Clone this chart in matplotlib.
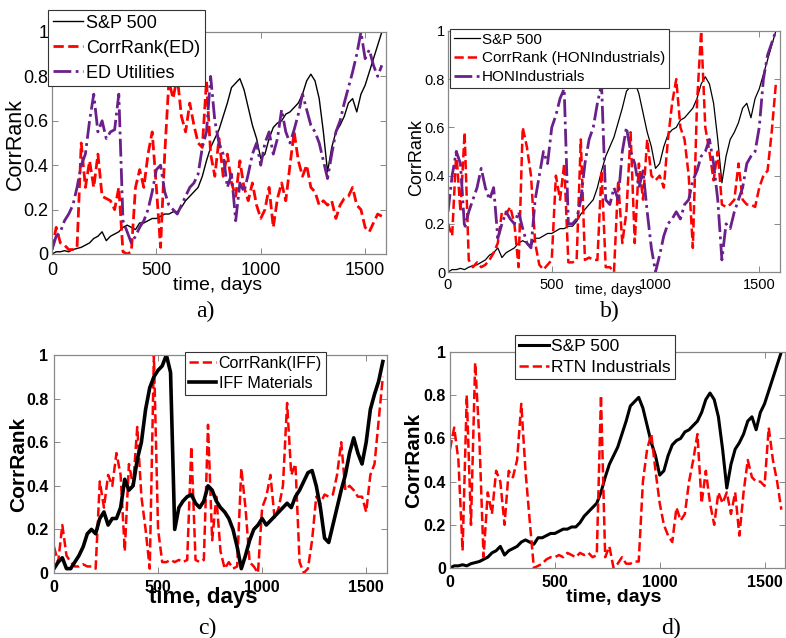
import numpy as np
import matplotlib.pyplot as plt

# day grid shared by all series (one value every 20 days)
days = np.arange(0, 1600, 20)

sp500 = [0.00, 0.01, 0.01, 0.015, 0.01, 0.02, 0.025, 0.03, 0.04, 0.05,
         0.07, 0.08, 0.10, 0.06, 0.08, 0.09, 0.10, 0.12, 0.13, 0.12,
         0.11, 0.14, 0.14, 0.15, 0.16, 0.16, 0.17, 0.18, 0.18, 0.19,
         0.19, 0.21, 0.24, 0.26, 0.28, 0.30, 0.35, 0.42, 0.48, 0.52,
         0.56, 0.62, 0.68, 0.75, 0.77, 0.79, 0.74, 0.66, 0.58, 0.52,
         0.43, 0.45, 0.52, 0.57, 0.59, 0.60, 0.63, 0.64, 0.66, 0.68,
         0.72, 0.78, 0.81, 0.78, 0.70, 0.55, 0.37, 0.48, 0.55, 0.58,
         0.62, 0.68, 0.70, 0.64, 0.72, 0.76, 0.82, 0.88, 0.94, 1.00]

corr_ed = [0.02, 0.12, 0.05, 0.04, 0.02, 0.02, 0.03, 0.50, 0.30, 0.42,
           0.30, 0.45, 0.26, 0.25, 0.24, 0.20, 0.30, 0.01, 0.00, 0.01,
           0.30, 0.38, 0.30, 0.45, 0.55, 0.30, 0.03, 0.45, 0.78, 0.70,
           0.80, 0.62, 0.55, 0.68, 0.58, 0.50, 0.48, 0.78, 0.45, 0.35,
           0.52, 0.35, 0.45, 0.32, 0.26, 0.42, 0.30, 0.24, 0.32, 0.22,
           0.16, 0.20, 0.30, 0.12, 0.25, 0.32, 0.24, 0.40, 0.55, 0.42,
           0.35, 0.40, 0.30, 0.28, 0.22, 0.24, 0.22, 0.24, 0.16, 0.22,
           0.25, 0.26, 0.30, 0.22, 0.20, 0.12, 0.10, 0.14, 0.18, 0.17]

ed_util = [0.02, 0.08, 0.10, 0.15, 0.18, 0.22, 0.30, 0.40, 0.45, 0.60,
           0.72, 0.55, 0.60, 0.52, 0.55, 0.56, 0.72, 0.15, 0.10, 0.05,
           0.08, 0.12, 0.15, 0.20, 0.28, 0.38, 0.40, 0.28, 0.22, 0.20,
           0.18, 0.22, 0.26, 0.30, 0.32, 0.36, 0.48, 0.55, 0.80, 0.60,
           0.50, 0.45, 0.30, 0.36, 0.15, 0.32, 0.28, 0.36, 0.45, 0.50,
           0.40, 0.50, 0.55, 0.45, 0.52, 0.65, 0.55, 0.50, 0.56, 0.63,
           0.72, 0.65, 0.58, 0.55, 0.50, 0.42, 0.34, 0.45, 0.55, 0.60,
           0.68, 0.75, 0.82, 0.90, 1.00, 0.88, 0.92, 0.85, 0.80, 0.85]

corr_hon = [0.20, 0.15, 0.50, 0.25, 0.58, 0.05, 0.02, 0.04, 0.02, 0.03,
            0.05, 0.08, 0.12, 0.25, 0.24, 0.27, 0.20, 0.02, 0.60, 0.52,
            0.40, 0.12, 0.03, 0.01, 0.03, 0.05, 0.40, 0.30, 0.45, 0.04,
            0.04, 0.05, 0.55, 0.05, 0.06, 0.05, 0.05, 0.42, 0.02, 0.02,
            0.00, 0.38, 0.12, 0.25, 0.58, 0.12, 0.45, 0.30, 0.55, 0.40,
            0.38, 0.40, 0.35, 0.55, 0.70, 0.80, 0.60, 0.55, 0.40, 0.10,
            0.70, 1.00, 0.60, 0.50, 0.38, 0.50, 0.28, 0.27, 0.28, 0.30,
            0.45, 0.30, 0.28, 0.28, 0.27, 0.35, 0.40, 0.42, 0.58, 0.78]

hon_ind = [0.25, 0.40, 0.50, 0.45, 0.18, 0.25, 0.30, 0.35, 0.43, 0.35,
           0.30, 0.35, 0.14, 0.20, 0.25, 0.22, 0.20, 0.25, 0.18, 0.12,
           0.10, 0.30, 0.40, 0.50, 0.45, 0.60, 0.65, 0.72, 0.76, 0.20,
           0.20, 0.22, 0.30, 0.45, 0.55, 0.60, 0.70, 0.78, 0.30, 0.28,
           0.35, 0.30, 0.50, 0.60, 0.50, 0.45, 0.35, 0.42, 0.25, 0.10,
           0.00, 0.07, 0.15, 0.20, 0.22, 0.25, 0.22, 0.28, 0.30, 0.38,
           0.42, 0.48, 0.50, 0.55, 0.45, 0.30, 0.05, 0.20, 0.18, 0.25,
           0.30, 0.35, 0.45, 0.48, 0.50, 0.60, 0.80, 0.90, 0.95, 1.00]

corr_iff = [0.12, 0.05, 0.22, 0.08, 0.05, 0.03, 0.03, 0.04, 0.03, 0.03,
            0.02, 0.42, 0.30, 0.45, 0.40, 0.55, 0.45, 0.10, 0.50, 0.40,
            0.67, 0.35, 0.20, 0.02, 1.00, 0.20, 0.05, 0.05, 0.06, 0.05,
            0.06, 0.05, 0.06, 0.58, 0.06, 0.05, 0.06, 0.68, 0.15, 0.35,
            0.10, 0.02, 0.05, 0.02, 0.03, 0.48, 0.30, 0.05, 0.03, 0.00,
            0.30, 0.35, 0.45, 0.25, 0.30, 0.40, 0.78, 0.45, 0.50, 0.05,
            0.00, 0.02, 0.15, 0.35, 0.32, 0.36, 0.35, 0.36, 0.45, 0.60,
            0.38, 0.40, 0.38, 0.35, 0.35, 0.28, 0.45, 0.50, 0.70, 0.90]

iff_mat = [0.02, 0.05, 0.07, 0.02, 0.02, 0.05, 0.08, 0.12, 0.18, 0.20,
           0.18, 0.25, 0.28, 0.22, 0.25, 0.25, 0.30, 0.43, 0.38, 0.40,
           0.52, 0.60, 0.75, 0.85, 0.90, 0.93, 0.95, 1.00, 0.92, 0.20,
           0.30, 0.33, 0.35, 0.36, 0.32, 0.30, 0.33, 0.40, 0.38, 0.33,
           0.30, 0.28, 0.25, 0.20, 0.12, 0.02, 0.08, 0.15, 0.20, 0.22,
           0.25, 0.22, 0.24, 0.26, 0.28, 0.30, 0.32, 0.30, 0.35, 0.38,
           0.42, 0.46, 0.47, 0.40, 0.30, 0.16, 0.14, 0.22, 0.30, 0.38,
           0.45, 0.55, 0.62, 0.55, 0.50, 0.60, 0.75, 0.82, 0.88, 0.97]

rtn_ind = [0.55, 0.65, 0.50, 0.08, 0.80, 0.20, 0.95, 0.60, 0.05, 0.35,
           0.25, 0.45, 0.40, 0.20, 0.45, 0.42, 0.50, 0.76, 0.45, 0.22,
           0.00, 0.01, 0.02, 0.04, 0.05, 0.05, 0.06, 0.05, 0.07, 0.06,
           0.05, 0.07, 0.06, 0.07, 0.05, 0.06, 0.80, 0.05, 0.10, 0.00,
           0.02, 0.05, 0.02, 0.02, 0.03, 0.03, 0.40, 0.55, 0.62, 0.45,
           0.30, 0.20, 0.15, 0.12, 0.28, 0.22, 0.25, 0.40, 0.50, 0.62,
           0.30, 0.45, 0.30, 0.20, 0.35, 0.30, 0.35, 0.25, 0.35, 0.15,
           0.35, 0.50, 0.42, 0.40, 0.40, 0.38, 0.65, 0.50, 0.40, 0.27]

RED = '#ff0000'
PURPLE = '#6a1f8a'
W, H = 786, 638

plt.rcParams['font.family'] = ['Liberation Sans', 'DejaVu Sans']
fig = plt.figure(figsize=(W / 100, H / 100), dpi=100)


def box(l, t, r, b):
    return [l / W, 1 - b / H, (r - l) / W, (b - t) / H]


def ftext(x, y, s, **kw):
    fig.text(x / W, 1 - y / H, s, ha='center', va='center', **kw)


def style(ax, size, xpad, ypad, weight='normal'):
    ax.set_xlim(0, 1600)
    ax.set_ylim(0, 1)
    ax.set_xticks([0, 500, 1000, 1500])
    ax.set_yticks([0, 0.2, 0.4, 0.6, 0.8, 1])
    ax.set_yticklabels(['0', '0.2', '0.4', '0.6', '0.8', '1'])
    ax.tick_params(direction='in', top=True, right=True, length=4, width=0.7,
                   color='#888888', labelsize=size)
    ax.tick_params(axis='x', pad=xpad)
    ax.tick_params(axis='y', pad=ypad)
    for lab in ax.get_xticklabels() + ax.get_yticklabels():
        lab.set_fontweight(weight)
    for sp in ax.spines.values():
        sp.set_color('#888888')
        sp.set_linewidth(0.9)


def legend(ax, x, y, size, spacing):
    leg = ax.legend(loc='upper left', bbox_to_anchor=(x / W, 1 - y / H),
                    bbox_transform=fig.transFigure, borderaxespad=0,
                    fontsize=size, fancybox=False, framealpha=1,
                    handlelength=1.7, handletextpad=0.15, borderpad=0.25,
                    labelspacing=spacing)
    leg.get_frame().set_edgecolor('#333333')
    leg.get_frame().set_linewidth(0.8)
    leg.set_zorder(10)


# a)
ax = fig.add_axes(box(52, 32, 386, 254))
ax.plot(days, sp500, color='black', lw=1.0, label='S&P 500')
ax.plot(days, corr_ed, color=RED, lw=2.0, ls='--', label='CorrRank(ED)')
ax.plot(days, ed_util, color=PURPLE, lw=2.0, ls='-.', label='ED Utilities')
style(ax, 13, 6, 2.5)
legend(ax, 48, 10, 13, 0.45)
ftext(15, 144, 'CorrRank', fontsize=15.5, rotation=90)
ftext(218, 285, 'time, days', fontsize=14)
ftext(205, 311, 'a)', fontsize=17, family='Liberation Serif')

# b)
ax = fig.add_axes(box(448, 31, 780, 272))
ax.plot(days, sp500, color='black', lw=0.9, label='S&P 500')
ax.plot(days, corr_hon, color=RED, lw=1.8, ls='--', label='CorrRank (HONIndustrials)')
ax.plot(days, hon_ind, color=PURPLE, lw=2.0, ls='-.', label='HONIndustrials')
style(ax, 10.5, 4, 2)
legend(ax, 450, 29, 11, 0.3)
ftext(417, 158, 'CorrRank', fontsize=13, rotation=90)
ftext(609, 290, 'time, days', fontsize=10.5)
ftext(610, 311, 'b)', fontsize=17, family='Liberation Serif')

# c)
ax = fig.add_axes(box(54, 355, 387, 573))
ax.plot(days, corr_iff, color=RED, lw=1.8, ls='--', label='CorrRank(IFF)')
ax.plot(days, iff_mat, color='black', lw=2.6, label='IFF Materials')
style(ax, 11.5, 5, 4, 'bold')
legend(ax, 185, 352, 11.5, 0.3)
ftext(19, 464, 'CorrRank', fontsize=15, fontweight='bold', rotation=90)
ftext(203, 597, 'time, days', fontsize=16, fontweight='bold')
ftext(207, 628, 'c)', fontsize=17, family='Liberation Serif')

# d)
ax = fig.add_axes(box(450, 352, 785.5, 568))
ax.plot(days, sp500, color='black', lw=2.2, label='S&P 500')
ax.plot(days, rtn_ind, color=RED, lw=1.8, ls='--', label='RTN Industrials')
style(ax, 11.5, 5, 3, 'bold')
legend(ax, 515, 335, 12.5, 0.3)
ftext(414, 460, 'CorrRank', fontsize=15, fontweight='bold', rotation=90)
ftext(614, 597, 'time, days', fontsize=14, fontweight='bold')
ftext(671, 628, 'd)', fontsize=17, family='Liberation Serif')

fig.savefig('out.png', dpi=100)
